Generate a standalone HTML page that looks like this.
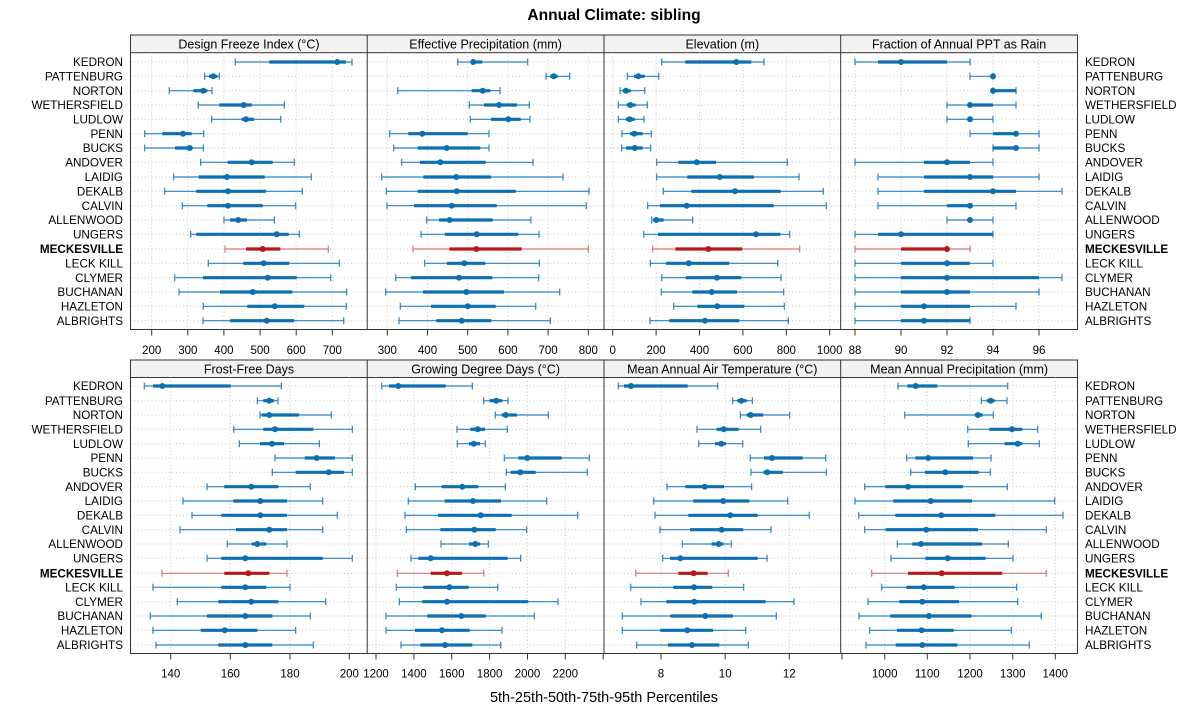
<!DOCTYPE html>
<html><head><meta charset="utf-8"><style>
html,body{margin:0;padding:0;background:#fff;}
svg{display:block;font-family:"Liberation Sans",Arial,sans-serif;}
.g{stroke:#c8c8c8;stroke-width:1;stroke-dasharray:1 2.5;fill:none}
.t{stroke:#2b83c0;stroke-width:1.2;fill:none}
.k{stroke:#0b6fb0;stroke-width:3.2;fill:none}
circle{fill:#0b6fb0}
.r .t{stroke:#d27777}
.r .k{stroke:#b31b1b}
.r circle{fill:#b31b1b}
.bx{fill:none;stroke:#333;stroke-width:1}
.strip{fill:#f2f2f2;stroke:#333;stroke-width:1}
.st{font-size:12.5px;text-anchor:middle;fill:#000}
.tl{font-size:11.5px;text-anchor:middle;fill:#000}
.ll{font-size:11.7px;text-anchor:end;fill:#000}
.rl{font-size:11.7px;text-anchor:start;fill:#000}
.tk{stroke:#333;stroke-width:1}
</style></head><body>
<svg width="1200" height="725" viewBox="0 0 1200 725" xmlns="http://www.w3.org/2000/svg">
<rect width="1200" height="725" fill="#fff"/>
<text x="614" y="20" font-size="15.6" font-weight="bold" text-anchor="middle">Annual Climate: sibling</text>

<!-- strips -->
<rect class="strip" x="130.5" y="35" width="947" height="17.7"/>
<rect class="strip" x="130.5" y="360" width="947" height="17.5"/>
<text class="st" x="249" y="48.5">Design Freeze Index (°C)</text>
<text class="st" x="485.6" y="48.5">Effective Precipitation (mm)</text>
<text class="st" x="722.3" y="48.5">Elevation (m)</text>
<text class="st" x="959.1" y="48.5">Fraction of Annual PPT as Rain</text>
<text class="st" x="249" y="373.3">Frost-Free Days</text>
<text class="st" x="485.6" y="373.3">Growing Degree Days (°C)</text>
<text class="st" x="722.3" y="373.3">Mean Annual Air Temperature (°C)</text>
<text class="st" x="959.1" y="373.3">Mean Annual Precipitation (mm)</text>

<!-- grid top -->
<path class="g" d="M151.7 52.7V329.5M187.8 52.7V329.5M223.9 52.7V329.5M260.1 52.7V329.5M296.2 52.7V329.5M332.3 52.7V329.5
M387.3 52.7V329.5M427.5 52.7V329.5M467.7 52.7V329.5M507.9 52.7V329.5M548.1 52.7V329.5M588.3 52.7V329.5
M612.7 52.7V329.5M656.1 52.7V329.5M699.5 52.7V329.5M742.9 52.7V329.5M786.3 52.7V329.5M829.7 52.7V329.5
M855 52.7V329.5M901 52.7V329.5M947 52.7V329.5M993 52.7V329.5M1039 52.7V329.5
M130.5 62H1077.5M130.5 76.3H1077.5M130.5 90.7H1077.5M130.5 105H1077.5M130.5 119.3H1077.5M130.5 133.7H1077.5M130.5 148H1077.5M130.5 162.3H1077.5M130.5 177H1077.5M130.5 191.3H1077.5M130.5 205.7H1077.5M130.5 220H1077.5M130.5 234.3H1077.5M130.5 249H1077.5M130.5 263.3H1077.5M130.5 277.7H1077.5M130.5 292H1077.5M130.5 306.3H1077.5M130.5 320.7H1077.5"/>
<!-- grid bottom -->
<path class="g" d="M170.7 377.5V653.5M230.3 377.5V653.5M290 377.5V653.5M349.3 377.5V653.5
M376 377.5V653.5M413.9 377.5V653.5M451.7 377.5V653.5M489.6 377.5V653.5M527.5 377.5V653.5M565.3 377.5V653.5
M661 377.5V653.5M725.2 377.5V653.5M789.3 377.5V653.5
M884.7 377.5V653.5M927.3 377.5V653.5M970 377.5V653.5M1012.7 377.5V653.5M1055.3 377.5V653.5
M130.5 386H1077.5M130.5 400.7H1077.5M130.5 415H1077.5M130.5 429.3H1077.5M130.5 443.7H1077.5M130.5 458H1077.5M130.5 472.3H1077.5M130.5 486.7H1077.5M130.5 501H1077.5M130.5 515.3H1077.5M130.5 529.7H1077.5M130.5 544H1077.5M130.5 558.3H1077.5M130.5 573.3H1077.5M130.5 587.3H1077.5M130.5 601.7H1077.5M130.5 616H1077.5M130.5 630.3H1077.5M130.5 645H1077.5"/>

<!-- TOP ROW BARS -->
<g transform="translate(0,62)">
<path class="t" d="M235.3-3.5v7m0-3.5H352m0-3.5v7"/><path class="k" d="M269.3 0H346"/><circle cx="337.3" r="3"/>
<path class="t" d="M457.7-3.5v7m0-3.5H527.7m0-3.5v7"/><path class="k" d="M472.3 0H482.3"/><circle cx="473.3" r="3"/>
<path class="t" d="M661.7-3.5v7m0-3.5H764m0-3.5v7"/><path class="k" d="M685.3 0H751.3"/><circle cx="736.3" r="3"/>
<path class="t" d="M855-3.5v7m0-3.5H970m0-3.5v7"/><path class="k" d="M878 0H947"/><circle cx="901" r="3"/>
</g>
<g transform="translate(0,76.3)">
<path class="t" d="M204.7-3.5v7m0-3.5H219.3m0-3.5v7"/><path class="k" d="M209 0H217.3"/><circle cx="213.3" r="3"/>
<path class="t" d="M546-3.5v7m0-3.5H569.7m0-3.5v7"/><path class="k" d="M550.3 0H557.7"/><circle cx="553.7" r="3"/>
<path class="t" d="M627.3-3.5v7m0-3.5H658.7m0-3.5v7"/><path class="k" d="M634 0H644.7"/><circle cx="638.3" r="3"/>
<path class="t" d="M970-3.5v7m0-3.5H993m0-3.5v7"/><circle cx="993" r="3"/>
</g>
<g transform="translate(0,90.7)">
<path class="t" d="M169.3-3.5v7m0-3.5H212m0-3.5v7"/><path class="k" d="M193.3 0H207.3"/><circle cx="203.3" r="3"/>
<path class="t" d="M397.7-3.5v7m0-3.5H500m0-3.5v7"/><path class="k" d="M471.7 0H490.3"/><circle cx="482.7" r="3"/>
<path class="t" d="M620-3.5v7m0-3.5H644.7m0-3.5v7"/><path class="k" d="M622.7 0H630.7"/><circle cx="626" r="3"/>
<path class="t" d="M993-3.5v7m0-3.5H1016m0-3.5v7"/><path class="k" d="M993 0H1016"/><circle cx="993" r="3"/>
</g>
<g transform="translate(0,105)">
<path class="t" d="M198.3-3.5v7m0-3.5H284.3m0-3.5v7"/><path class="k" d="M219.3 0H251.7"/><circle cx="243.7" r="3"/>
<path class="t" d="M469.3-3.5v7m0-3.5H529.3m0-3.5v7"/><path class="k" d="M484 0H517"/><circle cx="499" r="3"/>
<path class="t" d="M618.3-3.5v7m0-3.5H647.3m0-3.5v7"/><path class="k" d="M626.7 0H635.7"/><circle cx="630.3" r="3"/>
<path class="t" d="M947-3.5v7m0-3.5H1016m0-3.5v7"/><path class="k" d="M970 0H993"/><circle cx="970" r="3"/>
</g>
<g transform="translate(0,119.3)">
<path class="t" d="M211.7-3.5v7m0-3.5H280.7m0-3.5v7"/><path class="k" d="M241.7 0H254"/><circle cx="246" r="3"/>
<path class="t" d="M470.3-3.5v7m0-3.5H530m0-3.5v7"/><path class="k" d="M491 0H520.7"/><circle cx="508.3" r="3"/>
<path class="t" d="M618.3-3.5v7m0-3.5H644m0-3.5v7"/><path class="k" d="M626 0H634.7"/><circle cx="629.7" r="3"/>
<path class="t" d="M947-3.5v7m0-3.5H993m0-3.5v7"/><circle cx="970" r="3"/>
</g>
<g transform="translate(0,133.7)">
<path class="t" d="M144.7-3.5v7m0-3.5H203.7m0-3.5v7"/><path class="k" d="M162.3 0H191.7"/><circle cx="183" r="3"/>
<path class="t" d="M389.7-3.5v7m0-3.5H489m0-3.5v7"/><path class="k" d="M408.3 0H467.7"/><circle cx="422.3" r="3"/>
<path class="t" d="M622-3.5v7m0-3.5H651.3m0-3.5v7"/><path class="k" d="M630 0H642.7"/><circle cx="634.3" r="3"/>
<path class="t" d="M970-3.5v7m0-3.5H1039m0-3.5v7"/><path class="k" d="M993 0H1016"/><circle cx="1016" r="3"/>
</g>
<g transform="translate(0,148)">
<path class="t" d="M144.7-3.5v7m0-3.5H203.3m0-3.5v7"/><path class="k" d="M175 0H192.7"/><circle cx="189.7" r="3"/>
<path class="t" d="M393.7-3.5v7m0-3.5H489m0-3.5v7"/><path class="k" d="M417.7 0H480.3"/><circle cx="446.7" r="3"/>
<path class="t" d="M621.7-3.5v7m0-3.5H650.7m0-3.5v7"/><path class="k" d="M626 0H642.7"/><circle cx="634.7" r="3"/>
<path class="t" d="M993-3.5v7m0-3.5H1039m0-3.5v7"/><path class="k" d="M993 0H1016"/><circle cx="1016" r="3"/>
</g>
<g transform="translate(0,162.3)">
<path class="t" d="M200.7-3.5v7m0-3.5H294.3m0-3.5v7"/><path class="k" d="M227.7 0H272.7"/><circle cx="251.7" r="3"/>
<path class="t" d="M401.7-3.5v7m0-3.5H533m0-3.5v7"/><path class="k" d="M420 0H485.7"/><circle cx="440.3" r="3"/>
<path class="t" d="M656.7-3.5v7m0-3.5H787.3m0-3.5v7"/><path class="k" d="M678.3 0H716"/><circle cx="696.7" r="3"/>
<path class="t" d="M855-3.5v7m0-3.5H993m0-3.5v7"/><path class="k" d="M924 0H970"/><circle cx="947" r="3"/>
</g>
<g transform="translate(0,177)">
<path class="t" d="M173.7-3.5v7m0-3.5H311.3m0-3.5v7"/><path class="k" d="M198.7 0H264.7"/><circle cx="227" r="3"/>
<path class="t" d="M381.7-3.5v7m0-3.5H563m0-3.5v7"/><path class="k" d="M423.3 0H491"/><circle cx="456.3" r="3"/>
<path class="t" d="M656.7-3.5v7m0-3.5H799m0-3.5v7"/><path class="k" d="M687.3 0H754"/><circle cx="719.7" r="3"/>
<path class="t" d="M878-3.5v7m0-3.5H1039m0-3.5v7"/><path class="k" d="M924 0H993"/><circle cx="970" r="3"/>
</g>
<g transform="translate(0,191.3)">
<path class="t" d="M164.7-3.5v7m0-3.5H302.3m0-3.5v7"/><path class="k" d="M196.3 0H266"/><circle cx="228" r="3"/>
<path class="t" d="M386.3-3.5v7m0-3.5H589m0-3.5v7"/><path class="k" d="M417.7 0H515.7"/><circle cx="456.7" r="3"/>
<path class="t" d="M663.3-3.5v7m0-3.5H823.3m0-3.5v7"/><path class="k" d="M691.3 0H780.7"/><circle cx="735" r="3"/>
<path class="t" d="M878-3.5v7m0-3.5H1062m0-3.5v7"/><path class="k" d="M924 0H1016"/><circle cx="993" r="3"/>
</g>
<g transform="translate(0,205.7)">
<path class="t" d="M182.3-3.5v7m0-3.5H295.7m0-3.5v7"/><path class="k" d="M207.3 0H262.7"/><circle cx="228" r="3"/>
<path class="t" d="M387-3.5v7m0-3.5H586.3m0-3.5v7"/><path class="k" d="M414 0H496.7"/><circle cx="451.7" r="3"/>
<path class="t" d="M647.7-3.5v7m0-3.5H826.3m0-3.5v7"/><path class="k" d="M660 0H773.7"/><circle cx="686.7" r="3"/>
<path class="t" d="M878-3.5v7m0-3.5H1016m0-3.5v7"/><path class="k" d="M947 0H970"/><circle cx="970" r="3"/>
</g>
<g transform="translate(0,220)">
<path class="t" d="M224-3.5v7m0-3.5H274.3m0-3.5v7"/><path class="k" d="M230 0H247"/><circle cx="238.3" r="3"/>
<path class="t" d="M426.7-3.5v7m0-3.5H531m0-3.5v7"/><path class="k" d="M439 0H492.7"/><circle cx="449.7" r="3"/>
<path class="t" d="M651.7-3.5v7m0-3.5H692.7m0-3.5v7"/><path class="k" d="M653.3 0H663.7"/><circle cx="656.3" r="3"/>
<path class="t" d="M947-3.5v7m0-3.5H993m0-3.5v7"/><circle cx="970" r="3"/>
</g>
<g transform="translate(0,234.3)">
<path class="t" d="M190.7-3.5v7m0-3.5H299.3m0-3.5v7"/><path class="k" d="M196.3 0H288.7"/><circle cx="276.7" r="3"/>
<path class="t" d="M421-3.5v7m0-3.5H539m0-3.5v7"/><path class="k" d="M445 0H518.3"/><circle cx="476.7" r="3"/>
<path class="t" d="M643.7-3.5v7m0-3.5H789.7m0-3.5v7"/><path class="k" d="M658 0H780.3"/><circle cx="756" r="3"/>
<path class="t" d="M855-3.5v7m0-3.5H993m0-3.5v7"/><path class="k" d="M878 0H993"/><circle cx="901" r="3"/>
</g>
<g class="r" transform="translate(0,249)">
<path class="t" d="M225-3.5v7m0-3.5H328.3m0-3.5v7"/><path class="k" d="M246 0H280.3"/><circle cx="262.7" r="3"/>
<path class="t" d="M413-3.5v7m0-3.5H588.3m0-3.5v7"/><path class="k" d="M449.3 0H521.7"/><circle cx="476.3" r="3"/>
<path class="t" d="M652.7-3.5v7m0-3.5H799.7m0-3.5v7"/><path class="k" d="M675.3 0H742.3"/><circle cx="708.3" r="3"/>
<path class="t" d="M855-3.5v7m0-3.5H970m0-3.5v7"/><path class="k" d="M901 0H947"/><circle cx="947" r="3"/>
</g>
<g transform="translate(0,263.3)">
<path class="t" d="M208.3-3.5v7m0-3.5H339.3m0-3.5v7"/><path class="k" d="M243.3 0H289.3"/><circle cx="263.7" r="3"/>
<path class="t" d="M424.7-3.5v7m0-3.5H539.3m0-3.5v7"/><path class="k" d="M447 0H485.3"/><circle cx="464.3" r="3"/>
<path class="t" d="M650.3-3.5v7m0-3.5H777.7m0-3.5v7"/><path class="k" d="M666 0H729.3"/><circle cx="688.7" r="3"/>
<path class="t" d="M855-3.5v7m0-3.5H993m0-3.5v7"/><path class="k" d="M901 0H970"/><circle cx="947" r="3"/>
</g>
<g transform="translate(0,277.7)">
<path class="t" d="M174.7-3.5v7m0-3.5H330.7m0-3.5v7"/><path class="k" d="M203 0H296.7"/><circle cx="267.7" r="3"/>
<path class="t" d="M395.7-3.5v7m0-3.5H538.7m0-3.5v7"/><path class="k" d="M411 0H492.3"/><circle cx="459" r="3"/>
<path class="t" d="M661.7-3.5v7m0-3.5H781m0-3.5v7"/><path class="k" d="M685.7 0H741.3"/><circle cx="717" r="3"/>
<path class="t" d="M855-3.5v7m0-3.5H1062m0-3.5v7"/><path class="k" d="M901 0H1039"/><circle cx="947" r="3"/>
</g>
<g transform="translate(0,292)">
<path class="t" d="M179-3.5v7m0-3.5H346.7m0-3.5v7"/><path class="k" d="M220 0H292.3"/><circle cx="252.7" r="3"/>
<path class="t" d="M385.7-3.5v7m0-3.5H559.7m0-3.5v7"/><path class="k" d="M423 0H504"/><circle cx="466.3" r="3"/>
<path class="t" d="M661.3-3.5v7m0-3.5H783.7m0-3.5v7"/><path class="k" d="M692.3 0H737"/><circle cx="711.7" r="3"/>
<path class="t" d="M855-3.5v7m0-3.5H1039m0-3.5v7"/><path class="k" d="M901 0H970"/><circle cx="947" r="3"/>
</g>
<g transform="translate(0,306.3)">
<path class="t" d="M203.3-3.5v7m0-3.5H346.3m0-3.5v7"/><path class="k" d="M247.3 0H304.3"/><circle cx="274.7" r="3"/>
<path class="t" d="M400.3-3.5v7m0-3.5H535.7m0-3.5v7"/><path class="k" d="M431 0H495.7"/><circle cx="467.7" r="3"/>
<path class="t" d="M673.7-3.5v7m0-3.5H784.3m0-3.5v7"/><path class="k" d="M697.3 0H744.3"/><circle cx="717.3" r="3"/>
<path class="t" d="M855-3.5v7m0-3.5H1016m0-3.5v7"/><path class="k" d="M901 0H970"/><circle cx="924" r="3"/>
</g>
<g transform="translate(0,320.7)">
<path class="t" d="M203-3.5v7m0-3.5H343.7m0-3.5v7"/><path class="k" d="M230 0H294"/><circle cx="266.7" r="3"/>
<path class="t" d="M399-3.5v7m0-3.5H550.3m0-3.5v7"/><path class="k" d="M436.3 0H491.3"/><circle cx="461.7" r="3"/>
<path class="t" d="M650-3.5v7m0-3.5H788.3m0-3.5v7"/><path class="k" d="M669.3 0H739.3"/><circle cx="705" r="3"/>
<path class="t" d="M855-3.5v7m0-3.5H970m0-3.5v7"/><path class="k" d="M901 0H970"/><circle cx="924" r="3"/>
</g>

<!-- BOTTOM ROW BARS -->
<g transform="translate(0,386)">
<path class="t" d="M144.3-3.5v7m0-3.5H281.3m0-3.5v7"/><path class="k" d="M153 0H230.7"/><circle cx="162.3" r="3"/>
<path class="t" d="M381.7-3.5v7m0-3.5H472.3m0-3.5v7"/><path class="k" d="M389 0H445.7"/><circle cx="398.3" r="3"/>
<path class="t" d="M618.3-3.5v7m0-3.5H717.7m0-3.5v7"/><path class="k" d="M624 0H687.7"/><circle cx="631" r="3"/>
<path class="t" d="M898-3.5v7m0-3.5H1007.7m0-3.5v7"/><path class="k" d="M907.3 0H937.3"/><circle cx="915.7" r="3"/>
</g>
<g transform="translate(0,400.7)">
<path class="t" d="M257.3-3.5v7m0-3.5H278m0-3.5v7"/><path class="k" d="M263.3 0H274"/><circle cx="269.3" r="3"/>
<path class="t" d="M483.7-3.5v7m0-3.5H508m0-3.5v7"/><path class="k" d="M489.7 0H502.3"/><circle cx="496.3" r="3"/>
<path class="t" d="M732.7-3.5v7m0-3.5H752.3m0-3.5v7"/><path class="k" d="M737.3 0H746.7"/><circle cx="741.3" r="3"/>
<path class="t" d="M981.3-3.5v7m0-3.5H1007m0-3.5v7"/><path class="k" d="M986.7 0H994.7"/><circle cx="990.7" r="3"/>
</g>
<g transform="translate(0,415)">
<path class="t" d="M260-3.5v7m0-3.5H331.3m0-3.5v7"/><path class="k" d="M261.7 0H299"/><circle cx="269.3" r="3"/>
<path class="t" d="M495.3-3.5v7m0-3.5H548.3m0-3.5v7"/><path class="k" d="M501.7 0H517"/><circle cx="505.7" r="3"/>
<path class="t" d="M740.3-3.5v7m0-3.5H789.7m0-3.5v7"/><path class="k" d="M746.7 0H763.3"/><circle cx="750.7" r="3"/>
<path class="t" d="M904.7-3.5v7m0-3.5H993.3m0-3.5v7"/><path class="k" d="M974.7 0H982.7"/><circle cx="978" r="3"/>
</g>
<g transform="translate(0,429.3)">
<path class="t" d="M233.7-3.5v7m0-3.5H352.3m0-3.5v7"/><path class="k" d="M263.3 0H313.3"/><circle cx="275" r="3"/>
<path class="t" d="M457-3.5v7m0-3.5H507.3m0-3.5v7"/><path class="k" d="M470.3 0H485"/><circle cx="477.7" r="3"/>
<path class="t" d="M697-3.5v7m0-3.5H760.7m0-3.5v7"/><path class="k" d="M716.7 0H738.7"/><circle cx="723.7" r="3"/>
<path class="t" d="M967.7-3.5v7m0-3.5H1037.7m0-3.5v7"/><path class="k" d="M989.3 0H1022.3"/><circle cx="1012" r="3"/>
</g>
<g transform="translate(0,443.7)">
<path class="t" d="M239.3-3.5v7m0-3.5H319.3m0-3.5v7"/><path class="k" d="M260 0H284"/><circle cx="272" r="3"/>
<path class="t" d="M457.3-3.5v7m0-3.5H485.3m0-3.5v7"/><path class="k" d="M469 0H480"/><circle cx="473.7" r="3"/>
<path class="t" d="M698.7-3.5v7m0-3.5H742.7m0-3.5v7"/><path class="k" d="M715 0H726"/><circle cx="721.3" r="3"/>
<path class="t" d="M968.3-3.5v7m0-3.5H1039.3m0-3.5v7"/><path class="k" d="M1004.7 0H1022.3"/><circle cx="1017.7" r="3"/>
</g>
<g transform="translate(0,458)">
<path class="t" d="M275-3.5v7m0-3.5H352.3m0-3.5v7"/><path class="k" d="M304.7 0H335"/><circle cx="316.7" r="3"/>
<path class="t" d="M504.3-3.5v7m0-3.5H589.3m0-3.5v7"/><path class="k" d="M518.3 0H561.7"/><circle cx="527.3" r="3"/>
<path class="t" d="M750.3-3.5v7m0-3.5H825.7m0-3.5v7"/><path class="k" d="M764 0H802.7"/><circle cx="772" r="3"/>
<path class="t" d="M906.7-3.5v7m0-3.5H991m0-3.5v7"/><path class="k" d="M915.3 0H973"/><circle cx="928.3" r="3"/>
</g>
<g transform="translate(0,472.3)">
<path class="t" d="M272.3-3.5v7m0-3.5H352.3m0-3.5v7"/><path class="k" d="M295.7 0H344"/><circle cx="328.7" r="3"/>
<path class="t" d="M506.3-3.5v7m0-3.5H587.3m0-3.5v7"/><path class="k" d="M510.7 0H535.7"/><circle cx="520.3" r="3"/>
<path class="t" d="M751-3.5v7m0-3.5H826.3m0-3.5v7"/><path class="k" d="M763.3 0H782.7"/><circle cx="767.3" r="3"/>
<path class="t" d="M910.7-3.5v7m0-3.5H990.3m0-3.5v7"/><path class="k" d="M925 0H978.7"/><circle cx="945.3" r="3"/>
</g>
<g transform="translate(0,486.7)">
<path class="t" d="M207-3.5v7m0-3.5H310.3m0-3.5v7"/><path class="k" d="M224.3 0H278.3"/><circle cx="251.3" r="3"/>
<path class="t" d="M415.3-3.5v7m0-3.5H505.3m0-3.5v7"/><path class="k" d="M441.7 0H478.3"/><circle cx="462.3" r="3"/>
<path class="t" d="M667-3.5v7m0-3.5H751.7m0-3.5v7"/><path class="k" d="M685.3 0H724"/><circle cx="704.7" r="3"/>
<path class="t" d="M864.7-3.5v7m0-3.5H1007.3m0-3.5v7"/><path class="k" d="M885.3 0H963"/><circle cx="908" r="3"/>
</g>
<g transform="translate(0,501)">
<path class="t" d="M183-3.5v7m0-3.5H322.7m0-3.5v7"/><path class="k" d="M233.3 0H287"/><circle cx="260.3" r="3"/>
<path class="t" d="M408.3-3.5v7m0-3.5H546.7m0-3.5v7"/><path class="k" d="M444.7 0H501"/><circle cx="473" r="3"/>
<path class="t" d="M653.7-3.5v7m0-3.5H787.7m0-3.5v7"/><path class="k" d="M693.3 0H749.3"/><circle cx="723.3" r="3"/>
<path class="t" d="M855-3.5v7m0-3.5H1054.7m0-3.5v7"/><path class="k" d="M893.3 0H972"/><circle cx="930.7" r="3"/>
</g>
<g transform="translate(0,515.3)">
<path class="t" d="M192-3.5v7m0-3.5H337.3m0-3.5v7"/><path class="k" d="M221.3 0H287"/><circle cx="260.3" r="3"/>
<path class="t" d="M405-3.5v7m0-3.5H577.7m0-3.5v7"/><path class="k" d="M438 0H511.7"/><circle cx="480.7" r="3"/>
<path class="t" d="M655-3.5v7m0-3.5H809.3m0-3.5v7"/><path class="k" d="M688.3 0H757.7"/><circle cx="730.3" r="3"/>
<path class="t" d="M858.7-3.5v7m0-3.5H1063m0-3.5v7"/><path class="k" d="M895.3 0H995.3"/><circle cx="941.3" r="3"/>
</g>
<g transform="translate(0,529.7)">
<path class="t" d="M180-3.5v7m0-3.5H322.7m0-3.5v7"/><path class="k" d="M236 0H287"/><circle cx="269.3" r="3"/>
<path class="t" d="M406.3-3.5v7m0-3.5H526.7m0-3.5v7"/><path class="k" d="M440.3 0H495.7"/><circle cx="474.3" r="3"/>
<path class="t" d="M660-3.5v7m0-3.5H771m0-3.5v7"/><path class="k" d="M690 0H743.3"/><circle cx="721.7" r="3"/>
<path class="t" d="M864.7-3.5v7m0-3.5H1046.3m0-3.5v7"/><path class="k" d="M885.7 0H978"/><circle cx="926.3" r="3"/>
</g>
<g transform="translate(0,544)">
<path class="t" d="M227.3-3.5v7m0-3.5H287m0-3.5v7"/><path class="k" d="M251.7 0H266.3"/><circle cx="257.3" r="3"/>
<path class="t" d="M441-3.5v7m0-3.5H488.3m0-3.5v7"/><path class="k" d="M469 0H480.3"/><circle cx="475.3" r="3"/>
<path class="t" d="M682.3-3.5v7m0-3.5H731.3m0-3.5v7"/><path class="k" d="M711.7 0H723.3"/><circle cx="718.7" r="3"/>
<path class="t" d="M897.3-3.5v7m0-3.5H1008.3m0-3.5v7"/><path class="k" d="M912.3 0H982"/><circle cx="921" r="3"/>
</g>
<g transform="translate(0,558.3)">
<path class="t" d="M207-3.5v7m0-3.5H352.3m0-3.5v7"/><path class="k" d="M221.3 0H322.7"/><circle cx="245.3" r="3"/>
<path class="t" d="M411-3.5v7m0-3.5H520.7m0-3.5v7"/><path class="k" d="M418.3 0H507.7"/><circle cx="430.7" r="3"/>
<path class="t" d="M662.7-3.5v7m0-3.5H767m0-3.5v7"/><path class="k" d="M670 0H757.7"/><circle cx="680.3" r="3"/>
<path class="t" d="M891-3.5v7m0-3.5H1013m0-3.5v7"/><path class="k" d="M925.3 0H985.7"/><circle cx="947.7" r="3"/>
</g>
<g class="r" transform="translate(0,573.3)">
<path class="t" d="M162-3.5v7m0-3.5H287m0-3.5v7"/><path class="k" d="M224.3 0H269.3"/><circle cx="248.3" r="3"/>
<path class="t" d="M397.3-3.5v7m0-3.5H483.7m0-3.5v7"/><path class="k" d="M430.7 0H462"/><circle cx="447" r="3"/>
<path class="t" d="M635.7-3.5v7m0-3.5H728.3m0-3.5v7"/><path class="k" d="M678.3 0H707.7"/><circle cx="693.7" r="3"/>
<path class="t" d="M871.7-3.5v7m0-3.5H1046.3m0-3.5v7"/><path class="k" d="M908 0H1002.3"/><circle cx="941.7" r="3"/>
</g>
<g transform="translate(0,587.3)">
<path class="t" d="M153-3.5v7m0-3.5H290m0-3.5v7"/><path class="k" d="M221.3 0H266.3"/><circle cx="245.3" r="3"/>
<path class="t" d="M396.3-3.5v7m0-3.5H497.7m0-3.5v7"/><path class="k" d="M423.3 0H468.7"/><circle cx="449.3" r="3"/>
<path class="t" d="M630.7-3.5v7m0-3.5H743.7m0-3.5v7"/><path class="k" d="M673.3 0H712.3"/><circle cx="694" r="3"/>
<path class="t" d="M881.7-3.5v7m0-3.5H1016.7m0-3.5v7"/><path class="k" d="M906.3 0H954.7"/><circle cx="923.7" r="3"/>
</g>
<g transform="translate(0,601.7)">
<path class="t" d="M177.3-3.5v7m0-3.5H325.7m0-3.5v7"/><path class="k" d="M218.3 0H278.3"/><circle cx="251.3" r="3"/>
<path class="t" d="M399.3-3.5v7m0-3.5H558m0-3.5v7"/><path class="k" d="M422.3 0H528.3"/><circle cx="447" r="3"/>
<path class="t" d="M641-3.5v7m0-3.5H794m0-3.5v7"/><path class="k" d="M666.3 0H765.7"/><circle cx="694.3" r="3"/>
<path class="t" d="M868-3.5v7m0-3.5H1017.7m0-3.5v7"/><path class="k" d="M899.3 0H959"/><circle cx="922.3" r="3"/>
</g>
<g transform="translate(0,616)">
<path class="t" d="M150.3-3.5v7m0-3.5H310.3m0-3.5v7"/><path class="k" d="M207 0H272.3"/><circle cx="245.3" r="3"/>
<path class="t" d="M386-3.5v7m0-3.5H534.3m0-3.5v7"/><path class="k" d="M427.3 0H485.7"/><circle cx="461.3" r="3"/>
<path class="t" d="M622.3-3.5v7m0-3.5H776.3m0-3.5v7"/><path class="k" d="M670.3 0H733"/><circle cx="705.3" r="3"/>
<path class="t" d="M859-3.5v7m0-3.5H1041.3m0-3.5v7"/><path class="k" d="M890.3 0H971.3"/><circle cx="929" r="3"/>
</g>
<g transform="translate(0,630.3)">
<path class="t" d="M153-3.5v7m0-3.5H295.7m0-3.5v7"/><path class="k" d="M200.7 0H257.3"/><circle cx="224.7" r="3"/>
<path class="t" d="M386-3.5v7m0-3.5H502m0-3.5v7"/><path class="k" d="M415 0H469.7"/><circle cx="442" r="3"/>
<path class="t" d="M622.3-3.5v7m0-3.5H745.7m0-3.5v7"/><path class="k" d="M660.3 0H713"/><circle cx="687.3" r="3"/>
<path class="t" d="M869.7-3.5v7m0-3.5H1011.3m0-3.5v7"/><path class="k" d="M897 0H953.7"/><circle cx="921.7" r="3"/>
</g>
<g transform="translate(0,645)">
<path class="t" d="M156-3.5v7m0-3.5H313.3m0-3.5v7"/><path class="k" d="M218.3 0H272.3"/><circle cx="245.3" r="3"/>
<path class="t" d="M401-3.5v7m0-3.5H500.7m0-3.5v7"/><path class="k" d="M420.3 0H472.3"/><circle cx="445" r="3"/>
<path class="t" d="M636.7-3.5v7m0-3.5H748.3m0-3.5v7"/><path class="k" d="M668 0H719.3"/><circle cx="692" r="3"/>
<path class="t" d="M866-3.5v7m0-3.5H1029.3m0-3.5v7"/><path class="k" d="M895.7 0H957.3"/><circle cx="922.3" r="3"/>
</g>

<!-- panel borders -->
<rect class="bx" x="130.5" y="35" width="947" height="294.5"/>
<rect class="bx" x="130.5" y="360" width="947" height="293.5"/>
<path class="bx" d="M367.2 35V329.5M604 35V329.5M840.7 35V329.5M367.2 360V653.5M604 360V653.5M840.7 360V653.5"/>

<!-- ticks -->
<path class="tk" d="M151.7 329.5v6M187.8 329.5v6M223.9 329.5v6M260.1 329.5v6M296.2 329.5v6M332.3 329.5v6
M387.3 329.5v6M427.5 329.5v6M467.7 329.5v6M507.9 329.5v6M548.1 329.5v6M588.3 329.5v6
M612.7 329.5v6M656.1 329.5v6M699.5 329.5v6M742.9 329.5v6M786.3 329.5v6M829.7 329.5v6
M855 329.5v6M901 329.5v6M947 329.5v6M993 329.5v6M1039 329.5v6"/>
<path class="tk" d="M170.7 653.5v6M230.3 653.5v6M290 653.5v6M349.3 653.5v6
M376 653.5v6M413.9 653.5v6M451.7 653.5v6M489.6 653.5v6M527.5 653.5v6M565.3 653.5v6M603.2 653.5v6
M661 653.5v6M725.2 653.5v6M789.3 653.5v6M842 653.5v6
M884.7 653.5v6M927.3 653.5v6M970 653.5v6M1012.7 653.5v6M1055.3 653.5v6"/>

<g class="tl">
<text x="151.7" y="353.8">200</text><text x="187.8" y="353.8">300</text><text x="223.9" y="353.8">400</text><text x="260.1" y="353.8">500</text><text x="296.2" y="353.8">600</text><text x="332.3" y="353.8">700</text>
<text x="387.3" y="353.8">300</text><text x="427.5" y="353.8">400</text><text x="467.7" y="353.8">500</text><text x="507.9" y="353.8">600</text><text x="548.1" y="353.8">700</text><text x="588.3" y="353.8">800</text>
<text x="612.7" y="353.8">0</text><text x="656.1" y="353.8">200</text><text x="699.5" y="353.8">400</text><text x="742.9" y="353.8">600</text><text x="786.3" y="353.8">800</text><text x="829.7" y="353.8">1000</text>
<text x="855" y="353.8">88</text><text x="901" y="353.8">90</text><text x="947" y="353.8">92</text><text x="993" y="353.8">94</text><text x="1039" y="353.8">96</text>
<text x="170.7" y="677.6">140</text><text x="230.3" y="677.6">160</text><text x="290" y="677.6">180</text><text x="349.3" y="677.6">200</text>
<text x="376" y="677.6">1200</text><text x="413.9" y="677.6">1400</text><text x="451.7" y="677.6">1600</text><text x="489.6" y="677.6">1800</text><text x="527.5" y="677.6">2000</text><text x="565.3" y="677.6">2200</text>
<text x="661" y="677.6">8</text><text x="725.2" y="677.6">10</text><text x="789.3" y="677.6">12</text>
<text x="884.7" y="677.6">1000</text><text x="927.3" y="677.6">1100</text><text x="970" y="677.6">1200</text><text x="1012.7" y="677.6">1300</text><text x="1055.3" y="677.6">1400</text>
</g>

<!-- row labels -->
<g class="ll">
<text x="123" y="66.2">KEDRON</text><text x="123" y="80.5">PATTENBURG</text><text x="123" y="94.9">NORTON</text><text x="123" y="109.2">WETHERSFIELD</text><text x="123" y="123.5">LUDLOW</text><text x="123" y="137.9">PENN</text><text x="123" y="152.2">BUCKS</text><text x="123" y="166.5">ANDOVER</text><text x="123" y="181.2">LAIDIG</text><text x="123" y="195.5">DEKALB</text><text x="123" y="209.9">CALVIN</text><text x="123" y="224.2">ALLENWOOD</text><text x="123" y="238.5">UNGERS</text><text x="123" y="253.2" font-weight="bold">MECKESVILLE</text><text x="123" y="267.5">LECK KILL</text><text x="123" y="281.9">CLYMER</text><text x="123" y="296.2">BUCHANAN</text><text x="123" y="310.5">HAZLETON</text><text x="123" y="324.9">ALBRIGHTS</text>
<text x="123" y="390.2">KEDRON</text><text x="123" y="404.9">PATTENBURG</text><text x="123" y="419.2">NORTON</text><text x="123" y="433.5">WETHERSFIELD</text><text x="123" y="447.9">LUDLOW</text><text x="123" y="462.2">PENN</text><text x="123" y="476.5">BUCKS</text><text x="123" y="490.9">ANDOVER</text><text x="123" y="505.2">LAIDIG</text><text x="123" y="519.5">DEKALB</text><text x="123" y="533.9">CALVIN</text><text x="123" y="548.2">ALLENWOOD</text><text x="123" y="562.5">UNGERS</text><text x="123" y="577.5" font-weight="bold">MECKESVILLE</text><text x="123" y="591.5">LECK KILL</text><text x="123" y="605.9">CLYMER</text><text x="123" y="620.2">BUCHANAN</text><text x="123" y="634.5">HAZLETON</text><text x="123" y="649.2">ALBRIGHTS</text>
</g>
<g class="rl">
<text x="1085" y="66.2">KEDRON</text><text x="1085" y="80.5">PATTENBURG</text><text x="1085" y="94.9">NORTON</text><text x="1085" y="109.2">WETHERSFIELD</text><text x="1085" y="123.5">LUDLOW</text><text x="1085" y="137.9">PENN</text><text x="1085" y="152.2">BUCKS</text><text x="1085" y="166.5">ANDOVER</text><text x="1085" y="181.2">LAIDIG</text><text x="1085" y="195.5">DEKALB</text><text x="1085" y="209.9">CALVIN</text><text x="1085" y="224.2">ALLENWOOD</text><text x="1085" y="238.5">UNGERS</text><text x="1085" y="253.2" font-weight="bold">MECKESVILLE</text><text x="1085" y="267.5">LECK KILL</text><text x="1085" y="281.9">CLYMER</text><text x="1085" y="296.2">BUCHANAN</text><text x="1085" y="310.5">HAZLETON</text><text x="1085" y="324.9">ALBRIGHTS</text>
<text x="1085" y="390.2">KEDRON</text><text x="1085" y="404.9">PATTENBURG</text><text x="1085" y="419.2">NORTON</text><text x="1085" y="433.5">WETHERSFIELD</text><text x="1085" y="447.9">LUDLOW</text><text x="1085" y="462.2">PENN</text><text x="1085" y="476.5">BUCKS</text><text x="1085" y="490.9">ANDOVER</text><text x="1085" y="505.2">LAIDIG</text><text x="1085" y="519.5">DEKALB</text><text x="1085" y="533.9">CALVIN</text><text x="1085" y="548.2">ALLENWOOD</text><text x="1085" y="562.5">UNGERS</text><text x="1085" y="577.5" font-weight="bold">MECKESVILLE</text><text x="1085" y="591.5">LECK KILL</text><text x="1085" y="605.9">CLYMER</text><text x="1085" y="620.2">BUCHANAN</text><text x="1085" y="634.5">HAZLETON</text><text x="1085" y="649.2">ALBRIGHTS</text>
</g>

<text x="604" y="702" font-size="14.5" text-anchor="middle">5th-25th-50th-75th-95th Percentiles</text>
</svg>
</body></html>
